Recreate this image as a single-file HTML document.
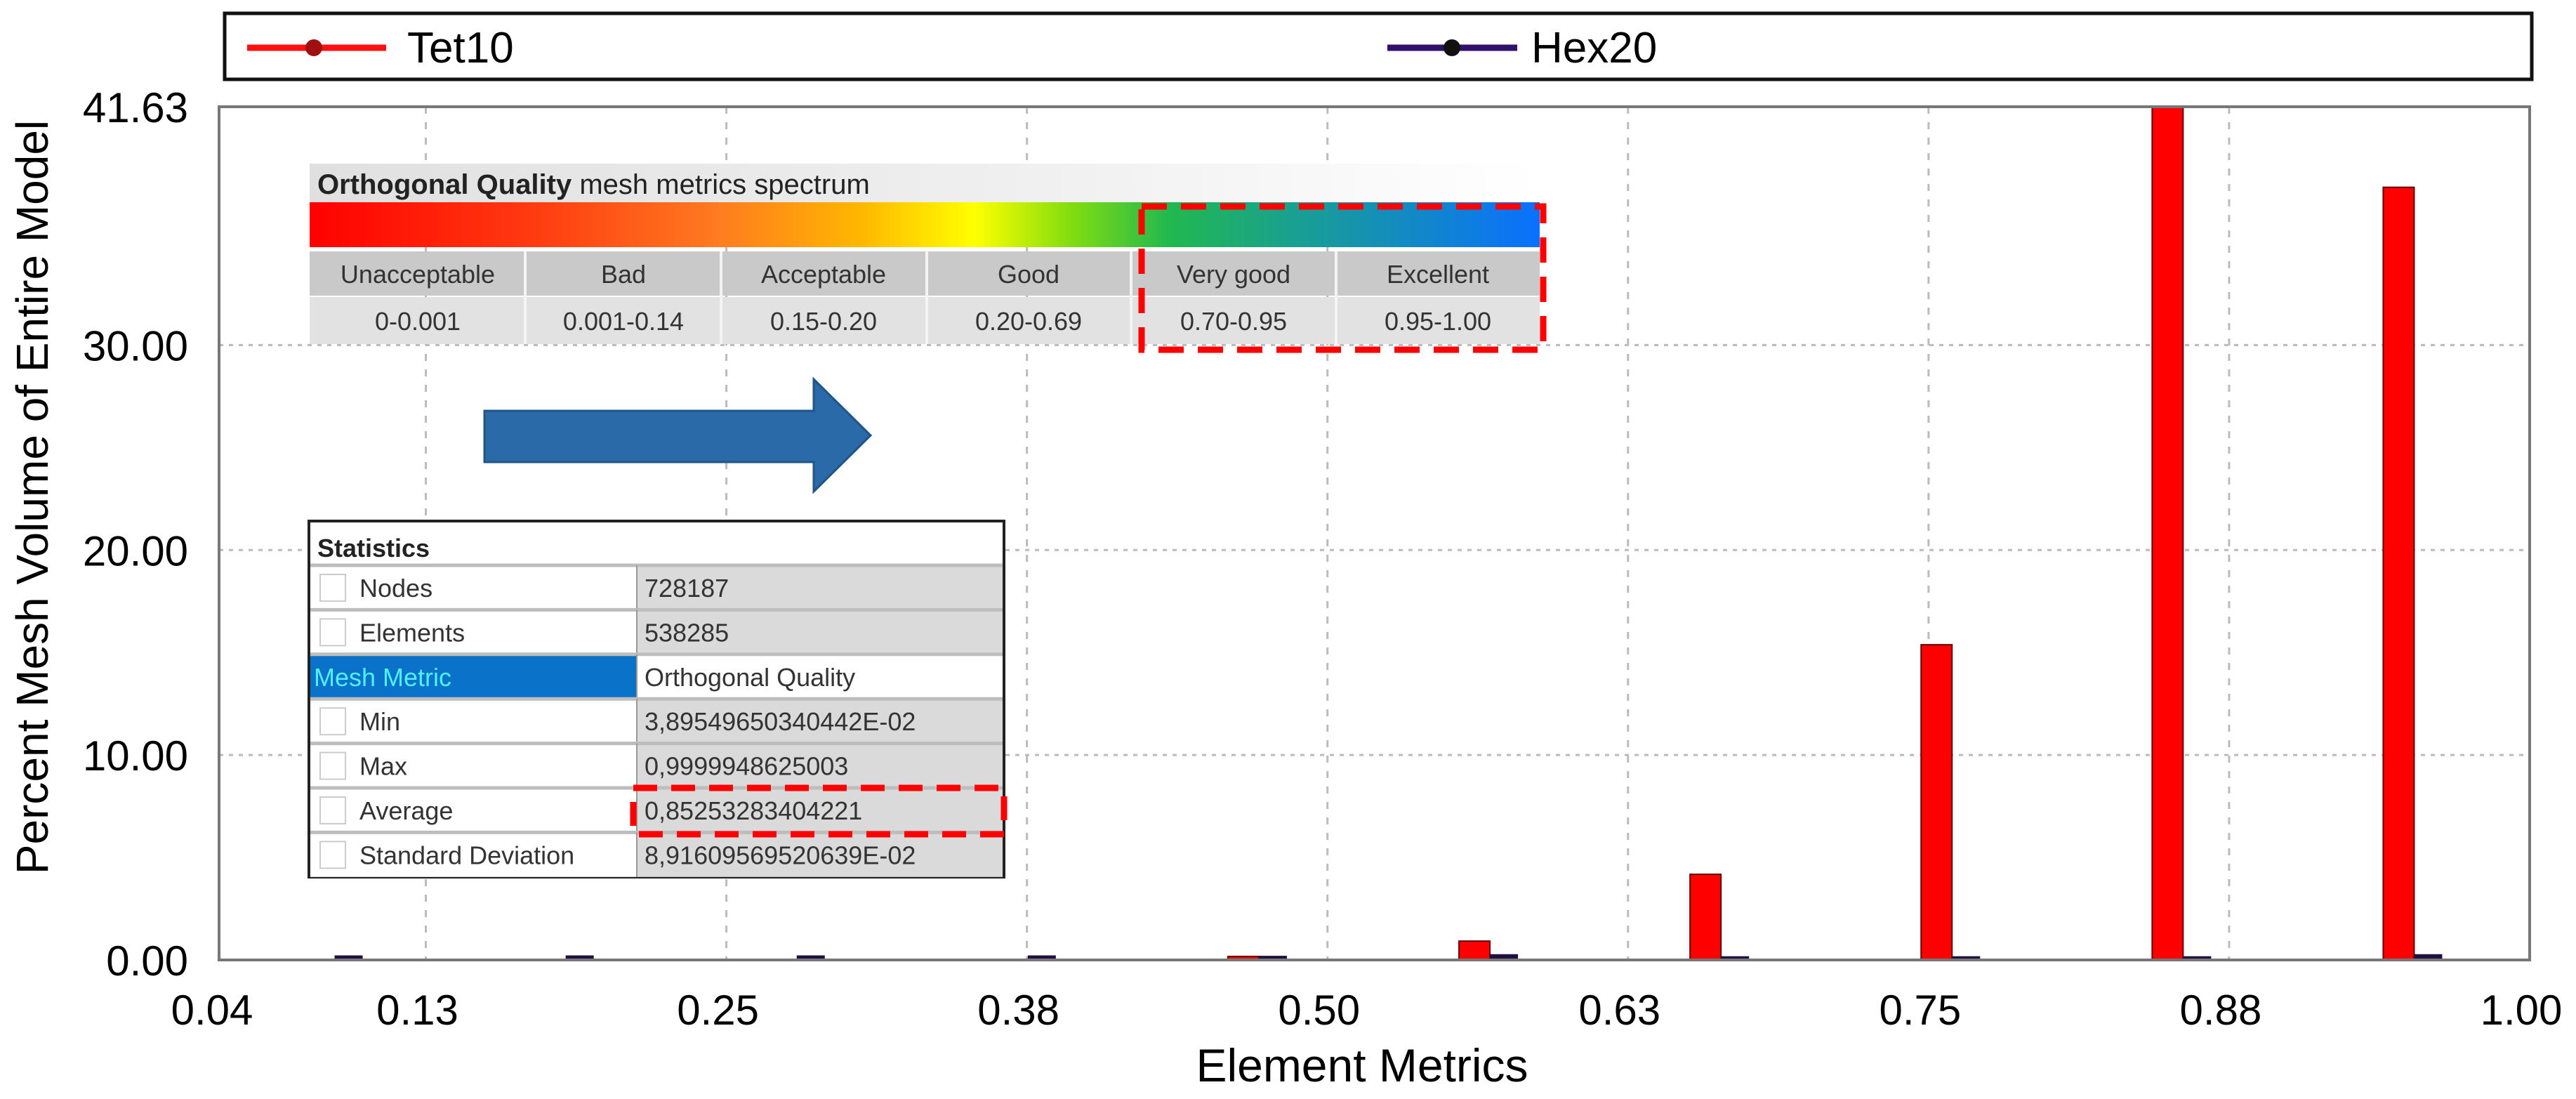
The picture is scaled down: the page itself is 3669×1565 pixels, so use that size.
<!DOCTYPE html>
<html><head><meta charset="utf-8"><style>
html,body{margin:0;padding:0;background:#fff;}
svg{display:block;font-family:"Liberation Sans",sans-serif;}
</style></head><body>
<svg id="chart" width="3669" height="1565" viewBox="0 0 3669 1565" xmlns="http://www.w3.org/2000/svg">
<defs>
<linearGradient id="spec" x1="0" x2="1" y1="0" y2="0">
<stop offset="0" stop-color="#ff0000"/><stop offset="0.18" stop-color="#ff3a10"/><stop offset="0.33" stop-color="#ff7a20"/><stop offset="0.45" stop-color="#ffb800"/><stop offset="0.54" stop-color="#ffff00"/><stop offset="0.62" stop-color="#80dc10"/><stop offset="0.7" stop-color="#20b850"/><stop offset="0.8" stop-color="#1aa090"/><stop offset="1" stop-color="#0a70ff"/>
</linearGradient>
<linearGradient id="titlebg" x1="0" x2="1"><stop offset="0" stop-color="#e0e0e0"/><stop offset="0.6" stop-color="#f0f0f0"/><stop offset="1" stop-color="#ffffff"/></linearGradient>
</defs>
<g id="grid"></g>
<g id="bars"></g>
<rect x="312" y="152" width="3291" height="1215" fill="none" stroke="#777" stroke-width="4"/>
<g id="yticks" font-size="60" text-anchor="end"></g>
<g id="xticks" font-size="60" text-anchor="middle"></g>
<text x="1940" y="1540" font-size="66" text-anchor="middle">Element Metrics</text>
<text transform="translate(68,708) rotate(-90)" font-size="64" text-anchor="middle">Percent Mesh Volume of Entire Model</text>

<g>
<rect x="320" y="19" width="3286" height="94" fill="#fff" stroke="#111" stroke-width="5"/>
<g>
<line x1="352" y1="68" x2="550" y2="68" stroke="#ff1010" stroke-width="9"/>
<circle cx="447" cy="68" r="12" fill="#a01010"/>
<text x="580" y="89" font-size="62">Tet10</text></g>
<g>
<line x1="1976" y1="68" x2="2161" y2="68" stroke="#30106a" stroke-width="9"/>
<circle cx="2068" cy="68" r="12" fill="#111"/>
<text x="2181" y="89" font-size="62">Hex20</text></g>
</g>

<g font-size="36" fill="#333">
<rect x="441" y="233" width="1752" height="55" fill="url(#titlebg)"/>
<text x="452" y="276" font-size="40" fill="#222"><tspan font-weight="bold">Orthogonal Quality</tspan> mesh metrics spectrum</text>
<rect x="441" y="288" width="1752" height="64" fill="url(#spec)"/>
<rect x="441" y="358" width="1752" height="63" fill="#c9c9c9"/>
<rect x="441" y="423" width="1752" height="67" fill="#e2e2e2"/>
<g stroke="#f4f4f4" stroke-width="4"><line x1="748" y1="358" x2="748" y2="490"/><line x1="1027" y1="358" x2="1027" y2="490"/><line x1="1320" y1="358" x2="1320" y2="490"/><line x1="1611" y1="358" x2="1611" y2="490"/><line x1="1903" y1="358" x2="1903" y2="490"/></g>
<g text-anchor="middle">
<text x="595" y="403">Unacceptable</text><text x="888" y="403">Bad</text><text x="1173" y="403">Acceptable</text><text x="1465" y="403">Good</text><text x="1757" y="403">Very good</text><text x="2048" y="403">Excellent</text>
<text x="595" y="470">0-0.001</text><text x="888" y="470">0.001-0.14</text><text x="1173" y="470">0.15-0.20</text><text x="1465" y="470">0.20-0.69</text><text x="1757" y="470">0.70-0.95</text><text x="2048" y="470">0.95-1.00</text>
</g>
<rect x="1626" y="294" width="572" height="204" fill="none" stroke="#ff0000" stroke-width="9" stroke-dasharray="36,20"/>
</g>

<polygon points="690,585 1159,585 1159,540 1240,620 1159,700 1159,658 690,658" fill="#2a6aa8" stroke="#1f5588" stroke-width="3"/>

<g font-size="36" fill="#333">
<rect x="440" y="742" width="990" height="507" fill="#fff" stroke="#222" stroke-width="4"/>
<text x="452" y="793" font-weight="bold" fill="#222">Statistics</text>
<g id="statrows"></g>
<rect x="902" y="1122" width="528" height="66" fill="none" stroke="#ff0000" stroke-width="9" stroke-dasharray="34,20"/>
</g>
</svg>
<script>
const binLabels = ["b0","b1","b2","b3","b4","b5","b6","b7","b8","b9"];
const tet10Values = [0.03,0.03,0.03,0.03,0.17,0.92,4.18,15.38,41.63,37.7];
const hex20Values = [0.12,0.12,0.12,0.12,0.1,0.18,0.08,0.08,0.08,0.18];
const yTicks = [0,10,20,30,41.63];
const yTickLabels = ["0.00","10.00","20.00","30.00","41.63"];
const xTicks = [0.039,0.125,0.25,0.375,0.5,0.625,0.75,0.875,1.0];
const xTickLabels = ["0.04","0.13","0.25","0.38","0.50","0.63","0.75","0.88","1.00"];
const statNames = ["Nodes","Elements","Mesh Metric","Min","Max","Average","Standard Deviation"];
const statValues = ["728187","538285","Orthogonal Quality","3,89549650340442E-02","0,9999948625003","0,85253283404221","8,91609569520639E-02"];

const NS="http://www.w3.org/2000/svg";
const X0=312,X1=3603,XMIN=0.039,XMAX=1.0,Y0=1367,Y1=152,YMAX=41.63;
const xs=v=>X0+(v-XMIN)/(XMAX-XMIN)*(X1-X0);
const ys=v=>Y0-v/YMAX*(Y0-Y1);
function mk(tag,attrs,parent){const e=document.createElementNS(NS,tag);for(const k in attrs)e.setAttribute(k,attrs[k]);parent.appendChild(e);return e;}
const grid=document.getElementById('grid');
yTicks.forEach((v,i)=>{
 if(v>0&&v<YMAX){const l=mk('line',{x1:X0,x2:X1,y1:ys(v),y2:ys(v),stroke:'#bbb','stroke-width':3,'stroke-dasharray':'6,8'},grid);
 
 }
 const t=mk('text',{x:268,y:ys(v)+22},document.getElementById('yticks'));t.textContent=yTickLabels[i];
 
 
});
xTicks.forEach((v,i)=>{
 if(i>0&&i<xTicks.length-1){const l=mk('line',{x1:xs(v),x2:xs(v),y1:Y1,y2:Y0,stroke:'#bbb','stroke-width':3,'stroke-dasharray':'10,12'},grid);
 
 }
 const t=mk('text',{x:xs(v)-(i==0?10:12),y:1459},document.getElementById('xticks'));t.textContent=xTickLabels[i];
 
 
});
const bars=document.getElementById('bars');
const bw=(X1-X0)/binLabels.length;
binLabels.forEach((b,i)=>{
 const c=X0+(i+0.5)*bw;
 const h1=Y0-ys(tet10Values[i]);
 const r1=mk('rect',{x:c-44,y:ys(tet10Values[i]),width:44,height:h1,fill:'#ff0000',stroke:'#600','stroke-width':2},bars);
 
 
 const h2=Y0-ys(hex20Values[i]);
 const r2=mk('rect',{x:c,y:ys(hex20Values[i])-3,width:40,height:h2+3,fill:'#201040'},bars);
 
 
});
const sr=document.getElementById('statrows');
const rowTop=805,rowH=63.4;
statNames.forEach((n,i)=>{
 const y=rowTop+i*rowH;
 const g=mk('g',{},sr);
 
 
 const isM=n==="Mesh Metric";
 mk('rect',{x:442,y:y,width:465,height:rowH,fill:isM?'#0a72c8':'#fff'},g);
 mk('rect',{x:907,y:y,width:521,height:rowH,fill:isM?'#fff':'#dadada'},g);
 mk('line',{x1:442,x2:1428,y1:y,y2:y,stroke:'#bdbdbd','stroke-width':5},g);
 mk('line',{x1:907,x2:907,y1:y,y2:y+rowH,stroke:'#999','stroke-width':2},g);
 if(!isM){mk('rect',{x:456,y:y+13,width:36,height:38,fill:'#fff',stroke:'#ccc','stroke-width':2},g);}
 const t=mk('text',{x:isM?447:512,y:y+45,fill:isM?'#4ff0ff':'#333'},g);t.textContent=n;
 const v=mk('text',{x:918,y:y+45,fill:'#333'},g);v.textContent=statValues[i];
});
</script>
</body></html>
